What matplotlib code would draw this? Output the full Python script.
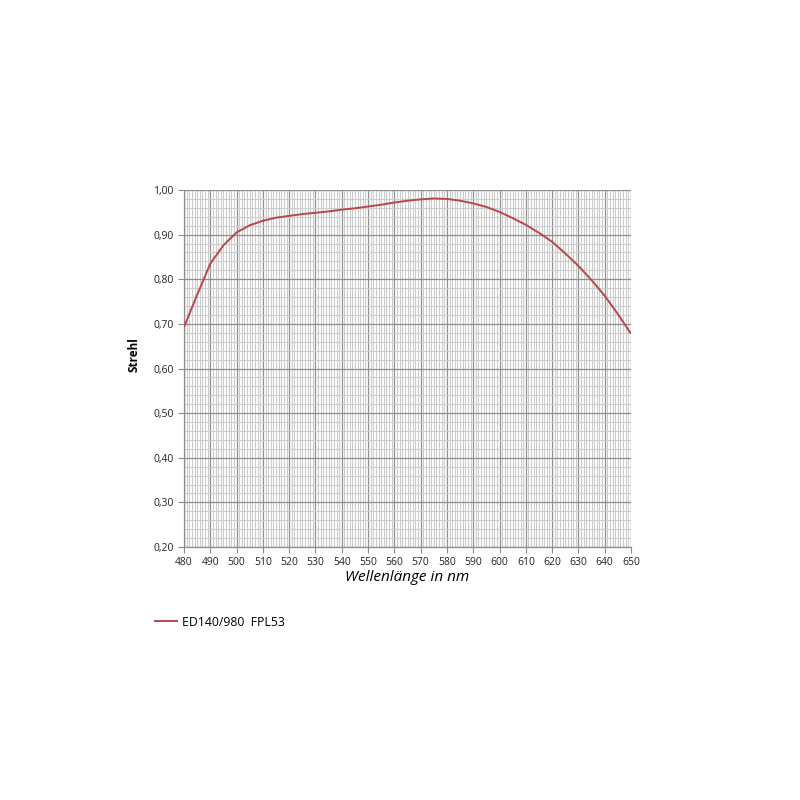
import matplotlib
matplotlib.use("Agg")
import matplotlib.pyplot as plt
from matplotlib.ticker import MultipleLocator, FuncFormatter

plt.rcParams['font.family'] = ['Open Sans', 'DejaVu Sans']

# Strehl ratio over wavelength
wavelength = [480, 485, 490, 495, 500, 505, 510, 515, 520, 525, 530, 535,
              540, 545, 550, 555, 560, 565, 570, 575, 580, 585, 590, 595,
              600, 605, 610, 615, 620, 625, 630, 635, 640, 645, 650]
strehl = [0.693, 0.765, 0.835, 0.876, 0.905, 0.921, 0.931, 0.938, 0.942,
          0.946, 0.949, 0.952, 0.956, 0.959, 0.963, 0.967, 0.972, 0.976,
          0.979, 0.981, 0.980, 0.976, 0.970, 0.962, 0.951, 0.937, 0.922,
          0.904, 0.884, 0.858, 0.830, 0.798, 0.763, 0.722, 0.678]
series_name = "ED140/980  FPL53"

fig = plt.figure(figsize=(8, 8), dpi=100)
ax = fig.add_axes([184/800, 253/800, 447/800, 357/800])

ax.plot(wavelength, strehl, color="#b8474a", lw=1.4, label=series_name,
        zorder=3, solid_capstyle="butt")

ax.set_xlim(480, 650)
ax.set_ylim(0.20, 1.00)
ax.xaxis.set_major_locator(MultipleLocator(10))
ax.xaxis.set_minor_locator(MultipleLocator(1))
ax.yaxis.set_major_locator(MultipleLocator(0.1))
ax.yaxis.set_minor_locator(MultipleLocator(0.02))
ax.yaxis.set_major_formatter(FuncFormatter(lambda v, p: f"{v:.2f}".replace(".", ",")))

ax.grid(which="minor", color="#cdcdcd", lw=0.8)
ax.grid(which="major", color="#8f8f8f", lw=0.9)
ax.set_axisbelow(True)

for s in ["top", "right"]:
    ax.spines[s].set_visible(False)
for s in ["left", "bottom"]:
    ax.spines[s].set_color("#8c8c8c")
    ax.spines[s].set_linewidth(0.9)

ax.tick_params(which="major", direction="out", length=4, width=0.8,
               color="#8c8c8c", labelsize=7.5, labelcolor="#222222")
ax.tick_params(which="minor", length=0)

ax.set_ylabel("Strehl", fontsize=8.5, fontweight="bold")
ax.yaxis.set_label_coords(-0.098, 0.54)
ax.set_xlabel("Wellenlänge in nm", fontsize=11, fontstyle="italic", labelpad=1)

fig.legend(loc="center left", bbox_to_anchor=(143/800, 1 - 622/800),
           frameon=False, fontsize=8.8, handlelength=2.0, handletextpad=0.25)

fig.savefig("out.png", dpi=100, facecolor="white")
